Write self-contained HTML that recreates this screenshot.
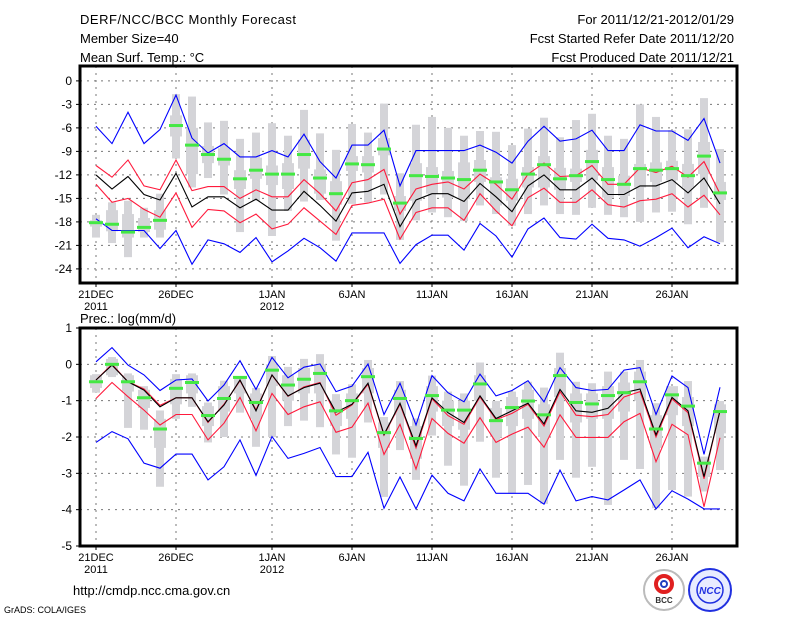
<!DOCTYPE html>
<html><head><meta charset="utf-8"><style>
body{margin:0;background:#fff;}
svg{display:block;font-family:"Liberation Sans",sans-serif;}
</style></head><body>
<svg id="c" width="800" height="618" xmlns="http://www.w3.org/2000/svg">
<g font-size="13" fill="#000">
<text x="80" y="24" textLength="216">DERF/NCC/BCC Monthly Forecast</text>
<text x="80" y="43">Member Size=40</text>
<text x="80" y="62">Mean Surf. Temp.: °C</text>
<text x="734" y="24" text-anchor="end">For 2011/12/21-2012/01/29</text>
<text x="734" y="43" text-anchor="end">Fcst Started Refer Date 2011/12/20</text>
<text x="734" y="62" text-anchor="end">Fcst Produced Date 2011/12/21</text>
</g>
<text x="80" y="323" font-size="13">Prec.: log(mm/d)</text>
<text x="73" y="595" font-size="13">http://cmdp.ncc.cma.gov.cn</text>
<text x="4" y="613" font-size="9">GrADS: COLA/IGES</text>
<g>
<circle cx="664" cy="590" r="20" fill="#fff" stroke="#bbb" stroke-width="2"/>
<circle cx="664" cy="584" r="8" fill="none" stroke="#e02020" stroke-width="4"/>
<circle cx="664" cy="584" r="3" fill="none" stroke="#2040c0" stroke-width="2"/>
<text x="664" y="603" font-size="8" text-anchor="middle" font-weight="bold" fill="#333">BCC</text>
</g>
<g>
<circle cx="710" cy="590" r="21" fill="#e8ecff" stroke="#2030e0" stroke-width="2"/>
<circle cx="710" cy="590" r="13" fill="none" stroke="#2030e0" stroke-width="1.5"/>
<text x="710" y="594" font-size="10" text-anchor="middle" font-weight="bold" font-style="italic" fill="#2030e0">NCC</text>
</g>
<g id="topPanel"></g>
<g id="botPanel"></g>
</svg>
<script>
const days = 40;
const xTickLabels = ["21DEC","26DEC","1JAN","6JAN","11JAN","16JAN","21JAN","26JAN"];
const xTickDays = [0,5,11,16,21,26,31,36];
const xYearLabels = {0:"2011",11:"2012"};
const topYTicks = [0,-3,-6,-9,-12,-15,-18,-21,-24];
const botYTicks = [1,0,-1,-2,-3,-4,-5];

const tMax = [-5.8,-8,-4,-8,-6.2,-1.8,-7.3,-9.2,-8,-9.7,-9.7,-8.9,-9.7,-6.8,-10.3,-12.4,-8.2,-8.2,-6.3,-13.4,-8.9,-8.9,-8.9,-8.9,-8.2,-9.1,-10.5,-7.7,-5.8,-7.7,-7.4,-6.3,-8.9,-8.9,-5.6,-6.4,-6.4,-7.6,-4.8,-10.5];
const tUp = [-10.8,-12.3,-10.1,-13.4,-13.9,-10.1,-14,-13.5,-13.5,-15,-13.9,-14.8,-14.8,-12.6,-14.4,-16.6,-13,-12.6,-11.3,-17,-13.8,-13.2,-12.9,-13.8,-11.9,-13.2,-15.1,-11.9,-10.5,-12.2,-12.1,-10.8,-13.2,-13.2,-11.1,-11.7,-10.9,-12.3,-10.3,-14.4];
const tMean = [-12,-13.8,-12.2,-14.5,-15.2,-11.8,-16.1,-14.8,-14.8,-16.2,-15.1,-16.5,-16.5,-14.1,-15.9,-17.9,-14.3,-14.1,-13.2,-18.6,-15.2,-14.4,-14.4,-15.4,-13.1,-14.8,-16.7,-13.4,-12,-13.9,-13.9,-12.4,-14.5,-14.5,-13.4,-13.4,-12.6,-14.3,-12.4,-15.7];
const tLow = [-13.2,-15.5,-15,-16.4,-17.4,-14.3,-18.7,-16.4,-16.6,-18.1,-17,-18.9,-18.3,-16.2,-17.9,-19.6,-15.9,-15.6,-15.1,-20.2,-16.8,-16.2,-16.2,-17.8,-14.4,-16.6,-18.5,-14.9,-13.7,-15.5,-15.5,-13.9,-15.8,-16.1,-15.3,-15.1,-14.4,-16.1,-14.6,-17.1];
const tMin = [-17.6,-19.1,-19.1,-19.1,-21.4,-19.1,-23.4,-20.3,-20.8,-21.9,-20,-23.1,-21.7,-20.1,-21.3,-23,-19.4,-19.4,-19.4,-23.3,-20.9,-19.7,-19.7,-21.6,-18.2,-19.8,-22.5,-18.9,-17.5,-20,-20.2,-18.3,-20.1,-20.3,-21.1,-20,-18.8,-21.3,-19.9,-20.8];
const tObs = [-18.1,-18.3,-19.3,-18.7,-17.8,-5.7,-8.2,-9.4,-10,-12.5,-11.4,-11.9,-11.9,-9.4,-12.4,-14.4,-10.6,-10.7,-8.7,-15.6,-12.1,-12.2,-12.4,-12.6,-11.4,-12.9,-13.9,-11.9,-10.7,-12.5,-12.1,-10.3,-12.6,-13.2,-11.2,-11.4,-11.2,-12.1,-9.6,-14.3];
const tBarHi = [-17.1,-15.5,-15.3,-16.2,-14.4,-1.7,-2,-5.3,-5.1,-7.4,-6.6,-5.4,-7,-3.7,-6.7,-8.8,-5.5,-6.6,-2.9,-11.8,-5.6,-4.6,-6,-7,-6.4,-6.5,-8.2,-6.1,-4.7,-7.2,-5,-4.2,-7,-7.4,-3,-4.6,-6.3,-6.2,-2.2,-8.7];
const tBarLo = [-20,-20.7,-22.5,-20,-20,-9.9,-13.6,-12.4,-14.5,-19.3,-15.3,-19.8,-16.6,-15.4,-15.2,-20.4,-15.7,-15.5,-14.5,-20.3,-17.8,-16.8,-17.4,-17.9,-15.9,-17,-18.5,-17,-15.9,-17,-17.1,-16.2,-17.1,-17.4,-18,-16.8,-16.7,-18.3,-16.2,-20.6];
const tBoxHi = [-17.8,-16.5,-17,-17.5,-16.5,-4.4,-6,-8.3,-8.6,-11.4,-9.8,-10.8,-10.5,-7.5,-11.3,-12.8,-9.6,-9.6,-7.3,-14.7,-10.5,-11,-11.5,-10.4,-10.1,-12.3,-12.5,-11,-9.6,-11.1,-11.2,-8.8,-11,-12.1,-10.6,-10.4,-10.2,-10.6,-7.8,-12.9];
const tBoxLo = [-18.6,-19.2,-20,-19.3,-19,-7.1,-11.9,-10.5,-10.8,-13.8,-12.5,-13.3,-13.8,-11.2,-14.4,-15.8,-11.5,-11.7,-9.5,-16.6,-15.3,-14.4,-14.9,-15.1,-12.9,-15.9,-15.3,-13.6,-13.6,-13.9,-12.9,-12.7,-14.9,-14.7,-13.6,-12.9,-12.7,-13.6,-11.9,-15.2];

const pMax = [0.07,0.46,-0.02,-0.29,-0.72,-0.43,-0.4,-1.01,-0.57,0.1,-0.69,0.19,-0.37,-0.08,0.01,-0.75,-0.6,0.01,-1.38,-0.52,-1.67,-0.31,-0.78,-1.03,-0.27,-0.87,-0.72,-0.45,-1.03,-0.09,-0.64,-0.72,-0.69,-0.16,-0.09,-1.38,-0.32,-0.64,-2.48,-0.63];
const pUp = [-0.43,0,-0.48,-0.68,-1.13,-0.92,-0.92,-1.6,-1.1,-0.45,-1.25,-0.3,-0.88,-0.62,-0.5,-1.4,-1.12,-0.55,-1.95,-1.1,-2.3,-0.95,-1.41,-1.65,-0.9,-1.52,-1.35,-1.1,-1.7,-0.75,-1.4,-1.44,-1.38,-0.9,-0.75,-2,-0.95,-1.33,-3.15,-1.28];
const pMean = [-0.43,-0.02,-0.48,-0.71,-1.17,-0.92,-0.92,-1.58,-1.12,-0.43,-1.28,-0.29,-0.87,-0.64,-0.52,-1.32,-1.1,-0.52,-1.93,-1.07,-2.24,-0.92,-1.33,-1.6,-0.87,-1.49,-1.28,-1.07,-1.64,-0.69,-1.28,-1.32,-1.21,-0.78,-0.68,-1.94,-0.91,-1.28,-3.09,-1.28];
const pLow = [-0.94,-0.5,-0.89,-1.26,-1.67,-1.38,-1.38,-2.08,-1.62,-0.91,-1.83,-0.8,-1.38,-1.17,-1.03,-1.87,-1.73,-1.07,-2.48,-1.65,-2.88,-1.49,-1.9,-2.17,-1.47,-2.15,-1.92,-1.73,-2.28,-1.39,-2.01,-2.01,-2.01,-1.58,-1.35,-2.68,-1.65,-1.94,-3.92,-2.02];
const pMin = [-2.15,-1.85,-2.05,-2.72,-2.86,-2.47,-2.47,-3.18,-2.82,-2.08,-3.06,-1.99,-2.59,-2.45,-2.29,-3.09,-3.09,-2.42,-3.96,-3.1,-3.98,-3.05,-3.55,-3.76,-2.88,-3.55,-3.55,-3.55,-3.85,-2.91,-3.76,-3.64,-3.73,-3.46,-3.18,-3.98,-3.48,-3.71,-3.98,-3.98];
const pObs = [-0.48,0,-0.48,-0.92,-1.78,-0.66,-0.5,-1.41,-0.94,-0.36,-1.05,-0.16,-0.57,-0.41,-0.25,-1.28,-1,-0.34,-1.88,-0.94,-2.04,-0.86,-1.26,-1.26,-0.54,-1.55,-1.19,-1.01,-1.39,-0.31,-1.05,-1.09,-0.86,-0.78,-0.48,-1.78,-0.84,-1.15,-2.72,-1.3];
const pBarHi = [-0.27,0.2,-0.25,-0.6,-1.27,-0.27,-0.25,-1.05,-0.45,-0.35,-0.65,0.23,-0.07,0.15,0.28,-0.82,-0.55,0.12,-1.45,-0.46,-1.49,-0.31,-0.75,-0.8,0.05,-1.01,-0.75,-0.48,-0.64,0.32,-0.48,-0.52,-0.2,-0.2,0.12,-1.07,-0.84,-0.46,-2.54,-1.01];
const pBarLo = [-0.78,-0.35,-1.75,-1.8,-3.37,-1.5,-1.17,-2.15,-2,-1.33,-2.27,-2,-1.7,-1.55,-1.73,-2.48,-2.57,-1.6,-3.65,-2.36,-3.18,-1.96,-2.79,-3.34,-2.13,-3.12,-3.55,-3.32,-3.84,-2.63,-3.12,-2.82,-3.87,-2.63,-2.88,-3.96,-3.46,-3.64,-3.5,-2.91];
const pBoxHi = [-0.3,0.15,-0.3,-0.7,-1.5,-0.4,-0.3,-1.15,-0.6,-0.4,-0.8,0,-0.3,-0.1,0,-1,-0.8,-0.1,-1.6,-0.7,-1.7,-0.6,-1,-1,-0.3,-1.2,-0.9,-0.7,-1.1,-0.1,-0.8,-0.8,-0.6,-0.5,-0.2,-1.4,-0.6,-0.9,-2.6,-1.1];
const pBoxLo = [-0.65,-0.3,-0.75,-1.2,-2.3,-1.1,-0.8,-1.7,-1.3,-0.8,-1.5,-0.6,-1,-0.8,-0.8,-1.7,-1.5,-0.8,-2.3,-1.4,-2.6,-1.3,-1.7,-1.8,-1,-2,-1.7,-1.5,-2,-0.9,-1.6,-1.5,-1.5,-1.3,-1,-2.3,-1.4,-1.7,-3.1,-1.9];

const NS = "http://www.w3.org/2000/svg";
const X0 = 80, X1 = 737;
function xDay(d){ return 96 + d*16; }
function mk(parent, tag, attrs){ const e=document.createElementNS(NS,tag); for(const k in attrs) e.setAttribute(k,attrs[k]); parent.appendChild(e); return e; }

function drawPanel(g, yTop, yBot, vTop, vBot, yTicks, S, prefix){
  const yv = v => yTop + (vTop - v) * (yBot - yTop) / (vTop - vBot);
  yTicks.forEach(t=>{
    const y = yv(t);
    const l = mk(g,'line',{x1:X0,x2:X1,y1:y,y2:y,stroke:'#777','stroke-dasharray':'2,5','stroke-width':1});
    
    
    mk(g,'line',{x1:X0-4,x2:X0,y1:y,y2:y,stroke:'#000'});
    const tx = mk(g,'text',{x:X0-8,y:y+4,'font-size':12,'text-anchor':'end'});
    tx.textContent = t;
    
    
  });
  xTickDays.forEach((d,i)=>{
    const x = xDay(d);
    const l = mk(g,'line',{x1:x,x2:x,y1:yTop,y2:yBot,stroke:'#777','stroke-dasharray':'2,5','stroke-width':1});
    
    
    mk(g,'line',{x1:x,x2:x,y1:yBot,y2:yBot+4,stroke:'#000'});
    const tx = mk(g,'text',{x:x,y:yBot+15,'font-size':11,'text-anchor':'middle'});
    tx.textContent = xTickLabels[i];
    
    
    if(xYearLabels[d]){
      const ty = mk(g,'text',{x:x,y:yBot+27,'font-size':11,'text-anchor':'middle'});
      ty.textContent = xYearLabels[d];
      
      
    }
  });
  for(let d=0; d<days; d++){
    const x = xDay(d);
    const b1 = mk(g,'rect',{x:x-4,width:8,y:yv(S.barHi[d]),height:yv(S.barLo[d])-yv(S.barHi[d]),fill:'#d4d4d8'});
    
    
    const b2 = mk(g,'rect',{x:x-6,width:12,y:yv(S.boxHi[d]),height:yv(S.boxLo[d])-yv(S.boxHi[d]),fill:'#d4d4d8'});
    
    
  }
  const lines = [[S.max,'#0000ff','max'],[S.min,'#0000ff','min'],[S.low,'#ff1a3c','lower'],[S.up,'#ff1a3c','upper'],[S.mean,'#000','mean']];
  lines.forEach(([arr,col,nm])=>{
    const pts = arr.map((v,d)=>xDay(d)+','+yv(v).toFixed(1)).join(' ');
    const p = mk(g,'polyline',{points:pts,fill:'none',stroke:col,'stroke-width':1.1});
    
    
  });
  for(let d=0; d<days; d++){
    const r = mk(g,'rect',{x:xDay(d)-7,width:14,y:yv(S.obs[d])-1.5,height:3,fill:'#44e844'});
    
    
  }
  const fr = mk(g,'rect',{x:X0,y:yTop,width:X1-X0,height:yBot-yTop,fill:'none',stroke:'#000','stroke-width':3});
  
  
}
const topG = document.getElementById('topPanel');


drawPanel(topG, 66, 283, 1.9, -25.8, topYTicks,
  {max:tMax,up:tUp,mean:tMean,low:tLow,min:tMin,obs:tObs,barHi:tBarHi,barLo:tBarLo,boxHi:tBoxHi,boxLo:tBoxLo}, 'temp');
const botG = document.getElementById('botPanel');


drawPanel(botG, 328, 546, 1, -5, botYTicks,
  {max:pMax,up:pUp,mean:pMean,low:pLow,min:pMin,obs:pObs,barHi:pBarHi,barLo:pBarLo,boxHi:pBoxHi,boxLo:pBoxLo}, 'prec');
</script>
</body></html>
